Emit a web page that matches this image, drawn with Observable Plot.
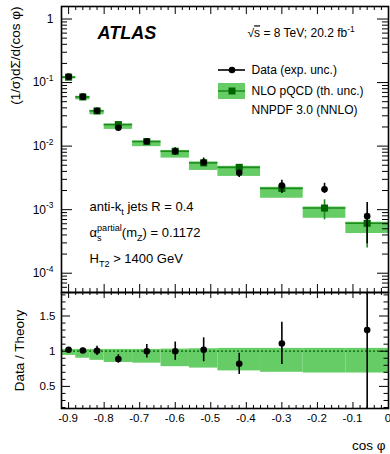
<!DOCTYPE html>
<html>
<head>
<meta charset="utf-8">
<script src="https://cdn.jsdelivr.net/npm/d3@7"></script>
<script src="https://cdn.jsdelivr.net/npm/@observablehq/plot@0.6"></script>
<style>
  body { margin: 0; background: #fff; }
  #chart { width: 390px; height: 454px; position: relative; overflow: hidden; background: #fff; }
  #chart svg { display: block; }
</style>
</head>
<body>
<div id="chart"></div>
<script>
// cos φ bins
const binLo     = [-0.92, -0.88, -0.84, -0.80, -0.72, -0.64, -0.56, -0.48, -0.36, -0.24, -0.12];
const binHi     = [-0.88, -0.84, -0.80, -0.72, -0.64, -0.56, -0.48, -0.36, -0.24, -0.12,  0.00];
const binCenter = [-0.90, -0.86, -0.82, -0.76, -0.68, -0.60, -0.52, -0.42, -0.30, -0.18, -0.06];

// measured (1/σ)dΣ/d(cos φ) with experimental uncertainty
const dataVal = [0.124, 0.060, 0.036, 0.0194, 0.0118, 0.0083, 0.00556, 0.0038, 0.0024, 0.0021, 0.00079];
const dataHi  = [0.1265, 0.0618, 0.0383, 0.0203, 0.0129, 0.0094, 0.0065, 0.0042, 0.0029, 0.0026, 0.0013];
const dataLo  = [0.1215, 0.0582, 0.0337, 0.0185, 0.0107, 0.0072, 0.0049, 0.0032, 0.0018, 0.0018, 0.00029];

// NLO pQCD prediction (NNPDF 3.0) and its uncertainty band, relative to the prediction
const theoryVal = [0.1216, 0.0594, 0.0358, 0.0218, 0.0118, 0.0083, 0.00545, 0.00463, 0.00216, 0.00106, 0.00061];
const theoryHi  = [null, null, null, null, null, null, null, null, null, 0.00143, 0.0008];
const theoryLo  = [null, null, null, null, null, null, null, null, null, 0.00069, 0.00025];
const bandLo    = [0.94, 0.90, 0.87, 0.84, 0.83, 0.78, 0.76, 0.72, 0.70, 0.69, 0.69];
const bandHi    = [1.025, 1.025, 1.025, 1.025, 1.025, 1.03, 1.035, 1.04, 1.04, 1.04, 1.04];

// Data / Theory
const ratioVal = [1.02, 1.01, 1.005, 0.89, 1.00, 1.00, 1.02, 0.82, 1.11, null, 1.30];
const ratioErr = [0.025, 0.035, 0.065, 0.06, 0.095, 0.13, 0.17, 0.15, 0.30, null, 1.20];

// axis ticks
const xMajor = [-0.9, -0.8, -0.7, -0.6, -0.5, -0.4, -0.3, -0.2, -0.1, 0];
const xMinor = d3.range(-46, 1).map(i => +(i * 0.02).toFixed(2)).filter(v => Math.abs(v * 10 - Math.round(v * 10)) > 1e-6);
const yMajorTop = [1e-4, 1e-3, 1e-2, 1e-1, 1];
const yMinorTop = d3.range(-5, 1).flatMap(e => [2,3,4,5,6,7,8,9].map(m => m * 10 ** e)).filter(v => v > 5e-5 && v < 1.57);
const yMajorRatio = [0.5, 1, 1.5];
const yMinorRatio = [0.2, 0.3, 0.4, 0.6, 0.7, 0.8, 0.9, 1.1, 1.2, 1.3, 1.4, 1.6, 1.7, 1.8];

// texts
const experimentLabel = "ATLAS";
const energyLabel = "√~{s} = 8 TeV; 20.2 fb^{-1}";
const legendLabels = ["Data (exp. unc.)", "NLO pQCD (th. unc.)", "NNPDF 3.0 (NNLO)"];
const infoLabels = ["anti-k_{t} jets R = 0.4", "α_{s}^{partial}(m_{Z}) = 0.1172", "H_{T2} > 1400 GeV"];
const yTitleTop = "(1/σ)dΣ/d(cos φ)";
const yTitleRatio = "Data / Theory";
const xTitle = "cos φ";

const rows = binCenter.map((c, i) => ({
  c, lo: binLo[i], hi: binHi[i],
  data: dataVal[i], dHi: dataHi[i], dLo: dataLo[i],
  theory: theoryVal[i], thHi: theoryHi[i], thLo: theoryLo[i],
  bandLo: bandLo[i], bandHi: bandHi[i],
  r: ratioVal[i], e: ratioErr[i]
}));

const FONT = "'Liberation Sans', Arial, Helvetica, sans-serif";
const bandGreen = "#66cc66";
const lineGreen = "#1d8c1d";
const markGreen = "#006400";

const W = 390, ML = 61, MR = 2;
const TOP_H = 292, TOP_MT = 6;           // frame 6..292
const BOT_H = 162, BOT_MB = 46;          // frame 292..408
const topFrameH = TOP_H - TOP_MT;
const botFrameH = BOT_H - BOT_MB;
const frameW = W - ML - MR;
const yTopDomain = [4.97e-5, 1.574];
const yRatioDomain = [0.186, 1.834];

function label(s, dx, dy, opts = {}) {
  return Plot.text([s], {text: d => d, frameAnchor: "top-left", dx, dy, textAnchor: "start", lineAnchor: "middle", fill: "black", ...opts});
}

// inward-pointing tick marks along each side of the frame
function xTicks(values, len, frameH, side) {
  return Plot.tickX(values, {x: d => d, stroke: "black", strokeWidth: 1,
    insetTop: side === "bottom" ? frameH - len : 0,
    insetBottom: side === "top" ? frameH - len : 0});
}
function yTicks(values, len, side) {
  return Plot.tickY(values, {y: d => d, stroke: "black", strokeWidth: 1,
    insetRight: side === "left" ? frameW - len : 0,
    insetLeft: side === "right" ? frameW - len : 0});
}

const topPlot = Plot.plot({
  width: W, height: TOP_H,
  marginTop: TOP_MT, marginBottom: 0, marginLeft: ML, marginRight: MR,
  style: {fontFamily: FONT, fontSize: "12px", overflow: "visible", background: "transparent"},
  x: {domain: [-0.92, 0], axis: null},
  y: {type: "log", domain: yTopDomain, axis: null},
  marks: [
    Plot.rect(rows, {x1: "lo", x2: "hi", y1: d => d.theory * d.bandLo, y2: d => d.theory * d.bandHi, fill: bandGreen}),
    Plot.ruleY(rows, {y: "theory", x1: "lo", x2: "hi", stroke: lineGreen, strokeWidth: 1.6}),
    Plot.ruleX(rows.filter(d => d.thLo != null), {x: "c", y1: "thLo", y2: "thHi", stroke: lineGreen, strokeWidth: 1.6}),
    Plot.dot(rows, {x: "c", y: "theory", symbol: "square", r: 4, fill: markGreen, stroke: "none"}),
    Plot.ruleX(rows, {x: "c", y1: "dLo", y2: "dHi", stroke: "black", strokeWidth: 1.6}),
    Plot.dot(rows, {x: "c", y: "data", r: 3.3, fill: "black", stroke: "none"}),

    xTicks(xMajor, 8, topFrameH, "bottom"),
    xTicks(xMinor, 4, topFrameH, "bottom"),
    xTicks(xMajor, 8, topFrameH, "top"),
    xTicks(xMinor, 4, topFrameH, "top"),
    yTicks(yMajorTop, 11, "left"),
    yTicks(yMinorTop, 6, "left"),
    yTicks(yMajorTop, 11, "right"),
    yTicks(yMinorTop, 6, "right"),
    Plot.text(yMajorTop, {y: d => d, frameAnchor: "left", dx: -8, textAnchor: "end", lineAnchor: "middle", fontSize: 12,
      text: d => d === 1 ? "1" : `10^{${Math.round(Math.log10(d))}}`}),
    Plot.frame({stroke: "black", strokeWidth: 1.6}),

    label(experimentLabel, 36, 27, {fontSize: 18, fontWeight: "bold", fontStyle: "italic"}),
    label(energyLabel, 186, 27, {fontSize: 12}),
    label(legendLabels[0], 190, 64, {fontSize: 12}),
    label(legendLabels[1], 190, 85, {fontSize: 12}),
    label(legendLabels[2], 190, 104, {fontSize: 12}),
    label(infoLabels[0], 28, 200, {fontSize: 13}),
    label(infoLabels[1], 28, 226, {fontSize: 13}),
    label(infoLabels[2], 28, 252, {fontSize: 13}),
    label(yTitleTop, -46, 0, {fontSize: 13.5, rotate: -90, textAnchor: "end"})
  ]
});

const ratioRows = rows.filter(d => d.r != null);

const bottomPlot = Plot.plot({
  width: W, height: BOT_H,
  marginTop: 0, marginBottom: BOT_MB, marginLeft: ML, marginRight: MR,
  style: {fontFamily: FONT, fontSize: "11px", overflow: "visible", background: "transparent"},
  x: {domain: [-0.92, 0], axis: null},
  y: {domain: yRatioDomain, axis: null},
  marks: [
    Plot.rect(rows, {x1: "lo", x2: "hi", y1: "bandLo", y2: "bandHi", fill: bandGreen}),
    Plot.ruleY([1], {stroke: markGreen, strokeWidth: 1.3, strokeDasharray: "2,2"}),
    // error bars are cut at the panel edges
    Plot.ruleX(ratioRows, {x: "c",
      y1: d => Math.max(d.r - d.e, yRatioDomain[0]),
      y2: d => Math.min(d.r + d.e, yRatioDomain[1]),
      stroke: "black", strokeWidth: 1.6}),
    Plot.dot(ratioRows, {x: "c", y: "r", r: 3.3, fill: "black", stroke: "none"}),

    xTicks(xMajor, 6, botFrameH, "bottom"),
    xTicks(xMinor, 3, botFrameH, "bottom"),
    xTicks(xMajor, 6, botFrameH, "top"),
    xTicks(xMinor, 3, botFrameH, "top"),
    yTicks(yMajorRatio, 9, "left"),
    yTicks(yMinorRatio, 4.5, "left"),
    yTicks(yMajorRatio, 9, "right"),
    yTicks(yMinorRatio, 4.5, "right"),
    Plot.text(yMajorRatio, {y: d => d, frameAnchor: "left", dx: -6, textAnchor: "end", lineAnchor: "middle", fontSize: 11.5,
      text: d => String(d)}),
    Plot.text(xMajor, {x: d => d, frameAnchor: "bottom", dy: 10, dx: -0.5, textAnchor: "middle", lineAnchor: "middle", fontSize: 11.5,
      text: d => d === 0 ? "0" : d.toFixed(1)}),
    Plot.frame({stroke: "black", strokeWidth: 1.6}),

    Plot.text([yTitleRatio], {text: d => d, frameAnchor: "left", dx: -42, rotate: -90, textAnchor: "middle", lineAnchor: "middle", fontSize: 13.5}),
    Plot.text([xTitle], {text: d => d, frameAnchor: "bottom-right", dx: -3, dy: 37, textAnchor: "end", lineAnchor: "middle", fontSize: 13.5})
  ]
});

const chart = document.getElementById("chart");
chart.append(topPlot, bottomPlot);

// legend glyphs
const lg = d3.select(topPlot).append("g");
lg.append("line").attr("x1", 218).attr("x2", 245).attr("y1", 70).attr("y2", 70).attr("stroke", "black").attr("stroke-width", 1.6);
lg.append("circle").attr("cx", 232).attr("cy", 70).attr("r", 3.3).attr("fill", "black");
lg.append("rect").attr("x", 218).attr("y", 83).attr("width", 27).attr("height", 16).attr("fill", bandGreen);
lg.append("line").attr("x1", 218).attr("x2", 245).attr("y1", 91).attr("y2", 91).attr("stroke", lineGreen).attr("stroke-width", 1.6);
lg.append("rect").attr("x", 228.5).attr("y", 87.5).attr("width", 7).attr("height", 7).attr("fill", markGreen);

// sub- and superscripts written as _{..} and ^{..}; ~{..} puts a bar over its text
function richText(svg) {
  d3.select(svg).selectAll("text").each(function () {
    const el = this;
    if (el.querySelector("tspan")) return;
    const s = el.textContent;
    if (!/[_^~]\{/.test(s)) return;
    const fs = parseFloat(getComputedStyle(el).fontSize) || 12;
    const parts = s.split(/([_^~]\{[^}]*\})/).filter(p => p !== "");
    el.textContent = "";
    let shift = 0, prevSub = null;
    for (const p of parts) {
      let kind = "n", t = p;
      if (p.startsWith("_{")) { kind = "sub"; t = p.slice(2, -1); }
      else if (p.startsWith("^{")) { kind = "sup"; t = p.slice(2, -1); }
      else if (p.startsWith("~{")) { kind = "bar"; t = p.slice(2, -1); }
      const target = kind === "sub" ? 0.3 * fs : kind === "sup" ? -0.42 * fs : 0;
      const ts = d3.select(el).append("tspan").text(t);
      if (target !== shift) ts.attr("dy", target - shift);
      if (kind === "sub" || kind === "sup") ts.attr("font-size", 0.7 * fs);
      if (kind === "bar") ts.style("text-decoration", "overline");
      if (kind === "sup" && prevSub) ts.attr("dx", -prevSub.node().getComputedTextLength());
      shift = target;
      prevSub = kind === "sub" ? ts : null;
    }
  });
}
richText(topPlot);
richText(bottomPlot);
</script>
</body>
</html>
